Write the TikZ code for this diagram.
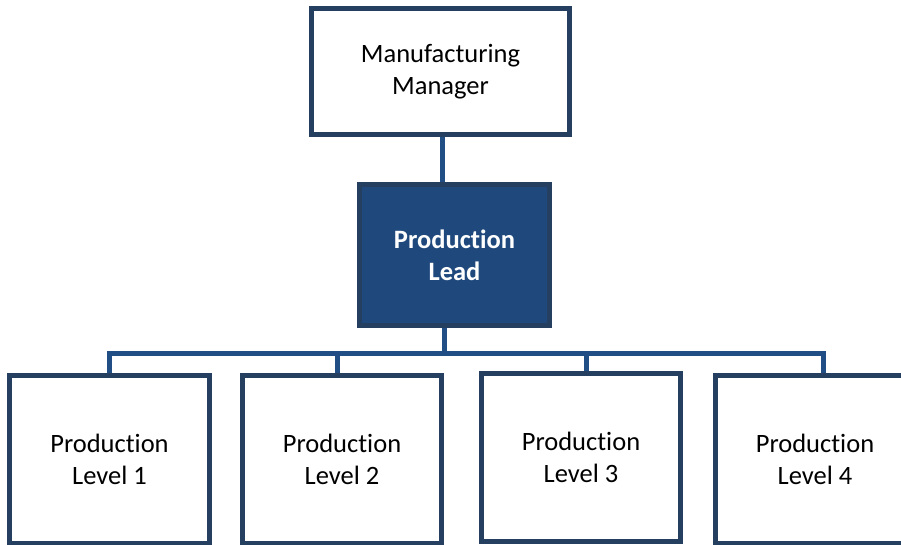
\documentclass[tikz,border=0pt]{standalone}
\usepackage{fontspec}
\setmainfont{Carlito}[Ligatures=NoCommon]
\usepackage{tikz}
\usetikzlibrary{positioning}
\definecolor{boxline}{RGB}{37,63,96}
\definecolor{leadfill}{RGB}{31,73,125}
\definecolor{linkblue}{RGB}{33,79,133}

\begin{document}
\begin{tikzpicture}[x=1pt,y=-1pt,
	orgbox/.style={draw=boxline,line width=5pt,fill=white,rectangle,align=center,
		font=\fontsize{26.5}{32}\selectfont,inner sep=0pt},
	leadbox/.style={orgbox,fill=leadfill,text=white,font=\fontsize{26.5}{32}\selectfont\bfseries},
	link/.style={draw=linkblue,line width=5pt}]
			\clip (0,0) rectangle (901,544);
			
			\node[orgbox,minimum width=258pt,minimum height=126pt] (mgr) at (440.5,71.5) {Manufacturing\\Manager};
			\node[leadbox,minimum width=190pt,minimum height=141pt] (lead) at (454.5,255) {Production\\Lead};
			
			\node[orgbox,minimum width=200pt,minimum height=168pt] (lvl1) at (109.5,459.5) {Production\\Level 1};
			\node[orgbox,minimum width=199pt,minimum height=168pt] (lvl2) at (342,459.5) {Production\\Level 2};
			\node[orgbox,minimum width=199pt,minimum height=168pt] (lvl3) at (581,457.5) {Production\\Level 3};
			\node[orgbox,minimum width=199pt,minimum height=168pt] (lvl4) at (815,459.5) {Production\\Level 4};
			
			\coordinate (bus) at (0,353);
			\draw[link] ([xshift=1.5pt]mgr.south) -- ([xshift=1.5pt]mgr.south |- lead.north);
			\draw[link] ([xshift=-10.5pt]lead.south) -- ([xshift=-10.5pt]lead.south |- bus);
			\draw[link] (lvl1.north) -- (lvl1.north |- bus) -- ([xshift=8pt]lvl4.north |- bus) -- ([xshift=8pt]lvl4.north);
			\draw[link] ([xshift=-5pt]lvl2.north) -- ([xshift=-5pt]lvl2.north |- bus);
			\draw[link] ([xshift=5pt]lvl3.north) -- ([xshift=5pt]lvl3.north |- bus);
			\end{tikzpicture}
\end{document}
